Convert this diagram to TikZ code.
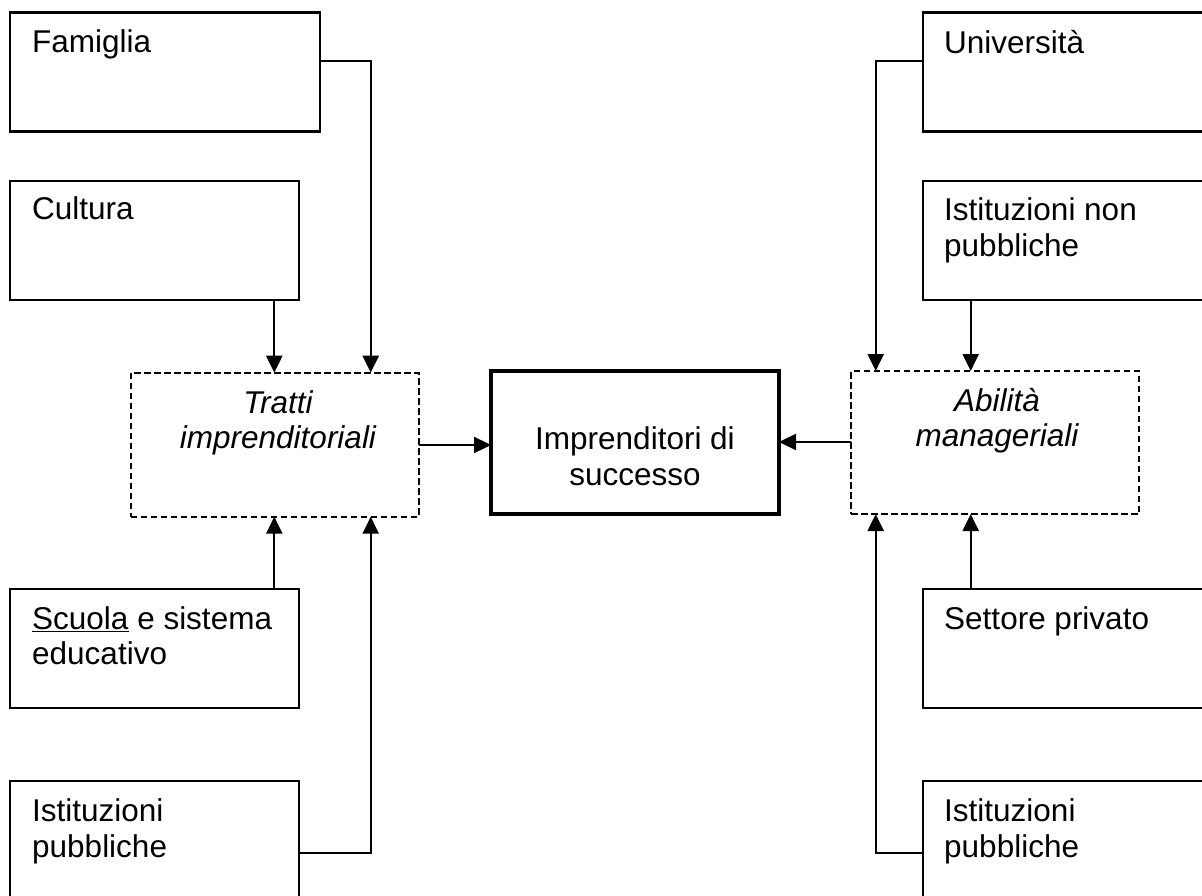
\documentclass[tikz,border=0pt]{standalone}
\usepackage{fontspec}
\setmainfont{Liberation Sans}
\usetikzlibrary{arrows.meta,calc}
\begin{document}
\begin{tikzpicture}[x=1pt,y=-1pt,
  box/.style={draw,line width=2.4pt,rectangle,anchor=north west,outer sep=0pt,inner sep=0pt,minimum width=#1,minimum height=119pt},
  box/.default=289pt,
  dbox/.style={draw,line width=2.3pt,dash pattern=on 6.5pt off 3.5pt,rectangle,anchor=north west,outer sep=0pt,inner sep=0pt,minimum width=288pt,minimum height=144pt},
  mbox/.style={draw,line width=3.6pt,rectangle,anchor=north west,outer sep=0pt,inner sep=0pt,minimum width=288pt,minimum height=143pt},
  txt/.style={anchor=base west,inner sep=0pt,align=left,font=\fontsize{31.5}{35.5}\selectfont},
  ctxt/.style={anchor=base,inner sep=0pt,align=center,font=\fontsize{31.5}{35.5}\selectfont},
  arr/.style={line width=2.3pt,-{Triangle[length=17pt,width=16pt]}}]
\useasboundingbox (0,0) rectangle (1202,896);
\clip (0,0) rectangle (1202,896);
\fill[white] (0,0) rectangle (1202,896);

% left boxes
\node[box=310pt] (fam) at (10,12.7) {};
\node[box] (cul) at (10,181) {};
\node[box] (sc) at (10,589) {};
\node[box,minimum height=130pt] (ipl) at (10,781) {};
% right boxes
\node[box=300pt] (uni) at (923,12.7) {};
\node[box=300pt] (inp) at (923,181) {};
\node[box=300pt] (set) at (923,589) {};
\node[box=300pt,minimum height=130pt] (ipr) at (923,781) {};
% middle
\node[dbox] (tra) at (130.7,372.7) {};
\node[dbox,minimum height=143pt] (abi) at (851,371) {};
\node[mbox] (imp) at (491,371) {};

% texts (base anchor of multi-line text = last line)
\node[txt] (tfam) at ($(fam.north west)+(22,40.3)$) {Famiglia};
\node[txt] (tcul) at ($(cul.north west)+(22,39)$) {Cultura};
\node[txt] (tsc) at ($(sc.north west)+(22,75.5)$) {\underline{Scuola} e sistema\\educativo};
\node[txt] (tipl) at ($(ipl.north west)+(22,76.2)$) {Istituzioni\\pubbliche};
\node[txt] (tuni) at ($(uni.north west)+(21,40.6)$) {Università};
\node[txt] (tinp) at ($(inp.north west)+(21,75.2)$) {Istituzioni non\\pubbliche};
\node[txt] (tset) at ($(set.north west)+(21,40)$) {Settore privato};
\node[txt] (tipr) at ($(ipr.north west)+(21,76.2)$) {Istituzioni\\pubbliche};
\node[ctxt,font=\fontsize{31.5}{35.5}\selectfont\itshape] (ttra) at (278,448.5) {Tratti\\imprenditoriali};
\node[ctxt,font=\fontsize{31.5}{35.5}\selectfont\itshape] (tabi) at (997,446.5) {Abilità\\manageriali};
\node[ctxt] (timp) at (635,485) {Imprenditori di\\successo};

% connector anchor points
\coordinate (ta) at ($(tra.north west)+(143.6,0)$);
\coordinate (tb) at ($(tra.north west)+(240,0)$);
\coordinate (tc) at ($(tra.south west)+(143.6,0)$);
\coordinate (td) at ($(tra.south west)+(240,0)$);
\coordinate (aa) at ($(abi.north west)+(24.7,0)$);
\coordinate (ab) at ($(abi.north west)+(119.7,0)$);
\coordinate (ac) at ($(abi.south west)+(24.7,0)$);
\coordinate (ad) at ($(abi.south west)+(119.7,0)$);

% left connectors
\draw[arr] ($(fam.north east)+(0,48.3)$) -| (tb);
\draw[arr] (cul.south -| ta) -- (ta);
\draw[arr] (sc.north -| tc) -- (tc);
\draw[arr] ($(ipl.north east)+(0,72.3)$) -| (td);
% right connectors
\draw[arr] ($(uni.north west)+(0,48.3)$) -| (aa);
\draw[arr] (inp.south -| ab) -- (ab);
\draw[arr] (set.north -| ad) -- (ad);
\draw[arr] ($(ipr.north west)+(0,72.3)$) -| (ac);
% to centre
\draw[arr] ($(tra.north east)+(0,72.3)$) -- ($(imp.north west)+(0,74)$);
\draw[arr] ($(abi.north west)+(0,71)$) -- ($(imp.north east)+(0,71)$);
\end{tikzpicture}
\end{document}
